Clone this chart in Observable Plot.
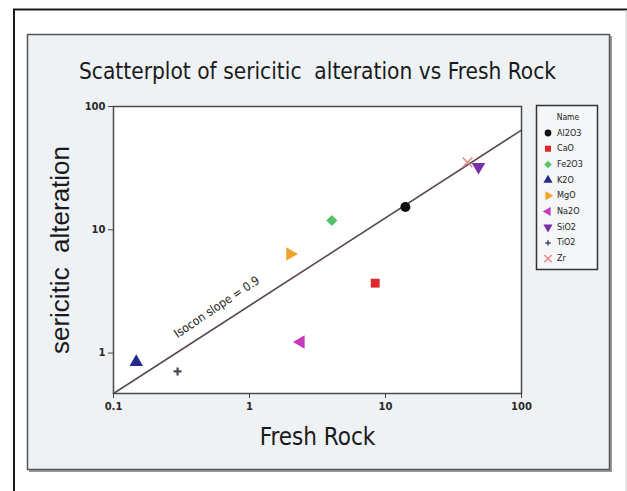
<!DOCTYPE html>
<html><head><meta charset="utf-8">
<script src="https://cdn.jsdelivr.net/npm/d3@7"></script>
<script src="https://cdn.jsdelivr.net/npm/@observablehq/plot@0.6"></script>
<style>body{margin:0;background:#fff;overflow:hidden;} #chart svg{display:block;}</style>
</head><body><div id="chart"></div>
<script>
const title = "Scatterplot of sericitic\u00a0 alteration vs Fresh Rock";
const xLabel = "Fresh Rock";
const yLabel = "sericitic\u00a0 alteration";
const legendTitle = "Name";
const names = ["Al2O3","CaO","Fe2O3","K2O","MgO","Na2O","SiO2","TiO2","Zr"];
const freshRock = [14.0, 8.4, 4.03, 0.147, 1.99, 2.38, 48.3, 0.296, 40.1];
const sericitic = [15.3, 3.69, 11.9, 0.845, 6.37, 1.23, 32.4, 0.71, 35.2];
const colors = ["#111111","#e0262b","#55c266","#27288f","#f0a22a","#c73bbf","#7a2ea8","#4a4a55","#e58585"];
const shapes = ["circle","square","diamond","triangleUp","triangleRight","triangleLeft","triangleDown","plus","times"];
const xTicks = [0.1, 1, 10, 100];
const xTickLabels = ["0.1","1","10","100"];
const yTicks = [1, 10, 100];
const yTickLabels = ["1","10","100"];
const isoconX = [0.1, 100];
const isoconY = [0.47, 64.4];
const isoconLabel = "Isocon slope = 0.9";
const isoconLabelX = [0.575];
const isoconLabelY = [2.36];

function tri(angle) {
  return {draw(ctx, size) {
    const R = Math.sqrt(4 * size / Math.sqrt(3)) / Math.sqrt(3);
    for (let i = 0; i < 3; i++) {
      const a = (angle + i * 120) * Math.PI / 180;
      const x = R * Math.cos(a), y = R * Math.sin(a);
      i ? ctx.lineTo(x, y) : ctx.moveTo(x, y);
    }
    ctx.closePath();
  }};
}
const thinPlus = {draw(ctx, size) {
  const r = Math.sqrt(size) * 0.45, w = r * 0.28;
  ctx.moveTo(-r, -w); ctx.lineTo(-w, -w); ctx.lineTo(-w, -r); ctx.lineTo(w, -r); ctx.lineTo(w, -w);
  ctx.lineTo(r, -w); ctx.lineTo(r, w); ctx.lineTo(w, w); ctx.lineTo(w, r); ctx.lineTo(-w, r);
  ctx.lineTo(-w, w); ctx.lineTo(-r, w); ctx.closePath();
}};
const symbolFor = {
  circle: d3.symbolCircle, square: d3.symbolSquare, diamond: d3.symbolDiamond2,
  triangleUp: tri(-90), triangleRight: tri(0), triangleLeft: tri(180), triangleDown: tri(90),
  plus: thinPlus, times: d3.symbolTimes
};
const symbols = shapes.map(s => symbolFor[s]);

const rows = names.map((n, i) => ({name: n, fresh: freshRock[i], ser: sericitic[i], shape: shapes[i]}));
const isocon = isoconX.map((x, i) => ({x, y: isoconY[i]}));
const fmtX = d => xTickLabels[xTicks.indexOf(d)];
const fmtY = d => yTickLabels[yTicks.indexOf(d)];
const sansC = "DejaVu Sans Condensed, DejaVu Sans";

const chart = Plot.plot({
  width: 627, height: 491,
  marginLeft: 113, marginRight: 106, marginTop: 106, marginBottom: 98,
  style: {fontFamily: "DejaVu Sans", background: "transparent", overflow: "visible", color: "#333"},
  x: {type: "log", domain: [0.1, 100]},
  y: {type: "log", domain: [0.47, 100]},
  color: {domain: names, range: colors},
  symbol: {domain: names, range: symbols},
  marks: [
    Plot.frame({fill: "white", stroke: null}),
    Plot.axisX({ticks: xTicks, tickFormat: fmtX, tickSize: 5, tickPadding: 4, fontSize: 10, fontWeight: "bold", label: null, stroke: "#444", fill: "#2a2a2a"}),
    Plot.axisY({ticks: yTicks, tickFormat: fmtY, tickSize: 5, tickPadding: 3, fontSize: 10, fontWeight: "bold", label: null, stroke: "#444", fill: "#2a2a2a"}),
    Plot.line(isocon, {x: "x", y: "y", stroke: "#5a4c4c", strokeWidth: 1.6}),
    Plot.text([isoconLabel], {x: isoconLabelX, y: isoconLabelY, rotate: -34, fontSize: 12, fill: "#222", fontFamily: sansC}),
    Plot.dot(rows, {filter: d => d.shape !== "times", x: "fresh", y: "ser", symbol: "name", fill: "name", r: 5}),
    Plot.dot(rows, {filter: d => d.shape === "times", x: "fresh", y: "ser", symbol: "name", stroke: "name", strokeWidth: 1.6, r: 4.5}),
    Plot.frame({stroke: "#4a4a4a", strokeWidth: 1.5}),
    Plot.text([title], {frameAnchor: "top", lineAnchor: "middle", dy: -35, fontSize: 22.5, fill: "#1a1a1a", fontFamily: sansC}),
    Plot.text([xLabel], {frameAnchor: "bottom", lineAnchor: "middle", dy: 44, fontSize: 24, fill: "#1a1a1a", fontFamily: sansC}),
    Plot.text([yLabel], {frameAnchor: "left", textAnchor: "middle", lineAnchor: "middle", dx: -53, rotate: -90, fontSize: 26, fill: "#1a1a1a", fontFamily: "Liberation Sans"})
  ]
});
document.getElementById("chart").append(chart);

// Decorations: outer frame, panel, legend
const svg = d3.select(chart);
const bg = svg.insert("g", ":first-child");
bg.append("rect").attr("x", 14).attr("y", 9.5).attr("width", 640).attr("height", 520)
  .attr("fill", "white").attr("stroke", "#1a1a1a").attr("stroke-width", 2);
bg.append("line").attr("x1", 626).attr("x2", 626).attr("y1", 10).attr("y2", 491).attr("stroke", "#ccc");
bg.append("rect").attr("x", 29).attr("y", 36).attr("width", 583).attr("height", 436)
  .attr("fill", "#9a9a9a");
bg.append("rect").attr("x", 27.5).attr("y", 34.5).attr("width", 582).attr("height", 435)
  .attr("fill", "#eef2f5").attr("stroke", "#555").attr("stroke-width", 1.5);

const lg = svg.append("g").attr("transform", "translate(536,105)");
lg.append("rect").attr("x", 0.5).attr("y", 0.5).attr("width", 61).attr("height", 164)
  .attr("fill", "#f4f6f8").attr("stroke", "#333").attr("stroke-width", 1.5);
lg.append("text").attr("x", 32).attr("y", 12).attr("text-anchor", "middle").attr("dominant-baseline", "middle")
  .attr("font-family", sansC).attr("font-size", 8.5).attr("fill", "#222").text(legendTitle);
names.forEach((n, i) => {
  const y = 28 + i * 15.7;
  const path = d3.symbol(symbols[i], 36)();
  const isTimes = shapes[i] === "times";
  lg.append("path").attr("d", path).attr("transform", `translate(12,${y})`)
    .attr("fill", isTimes ? "none" : colors[i]).attr("stroke", isTimes ? colors[i] : "none").attr("stroke-width", 1.4);
  lg.append("text").attr("x", 21).attr("y", y).attr("text-anchor", "start").attr("dominant-baseline", "middle")
    .attr("font-family", sansC).attr("font-size", 9).attr("fill", "#222").text(n);
});
</script>
</body></html>
